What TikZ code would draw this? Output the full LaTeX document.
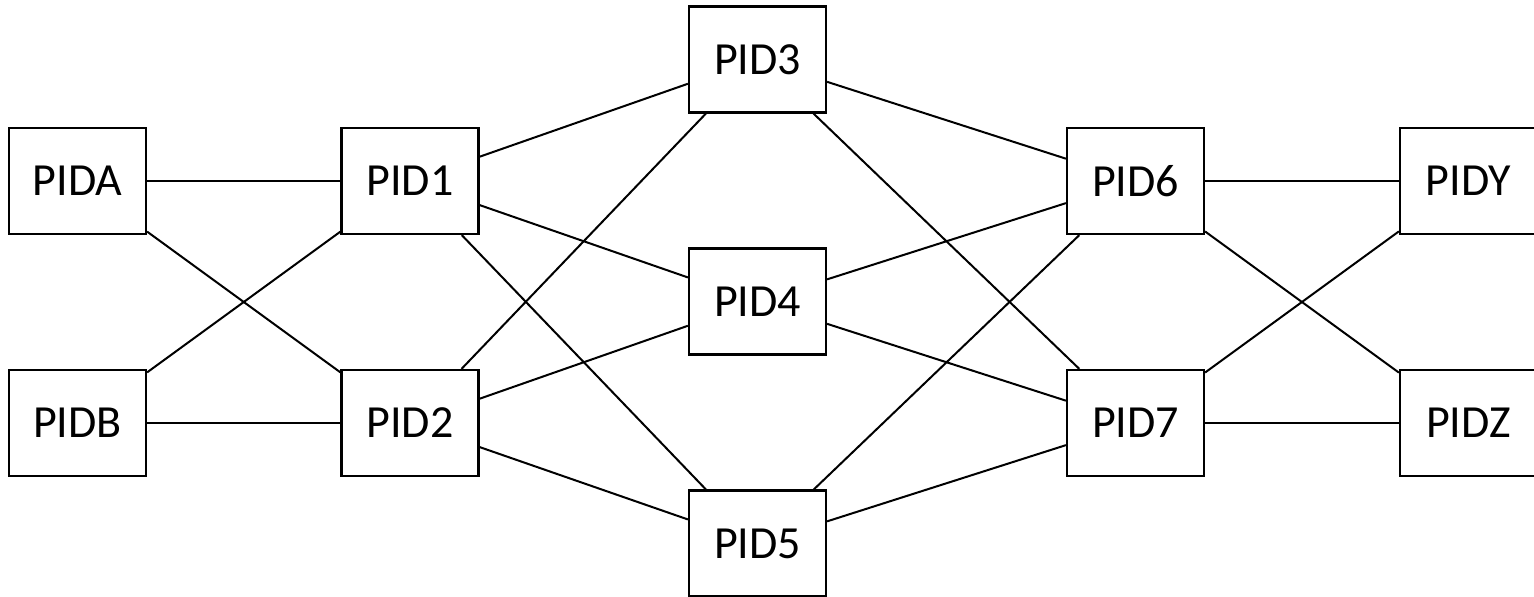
\documentclass[tikz,border=0pt]{standalone}
\usepackage{fontspec}
\setmainfont{Carlito}
\begin{document}
\begin{tikzpicture}[x=1pt,y=-1pt,
  pidbox/.style={draw=black,line width=2.2pt,fill=white,minimum width=137pt,minimum height=106pt,inner sep=0pt,font=\fontsize{46}{55}\selectfont},
  link/.style={draw=black,line width=2pt}]
\useasboundingbox (0,0) rectangle (1534,597);
\node[pidbox] (A) at (77.5,181) {PIDA};
\node[pidbox] (B) at (77.5,423) {PIDB};
\node[pidbox] (P1) at (410,181) {PID1};
\node[pidbox] (P2) at (410,423) {PID2};
\node[pidbox] (P3) at (757.5,59.5) {PID3};
\node[pidbox] (P4) at (757.5,301.5) {PID4};
\node[pidbox] (P5) at (757.5,543.5) {PID5};
\node[pidbox] (P6) at (1135.5,181) {PID6};
\node[pidbox] (P7) at (1135.5,423) {PID7};
\node[pidbox] (Y) at (1468.5,181) {PIDY};
\node[pidbox] (Z) at (1468.5,423) {PIDZ};
\foreach \a/\b in {A/P1,A/P2,B/P1,B/P2,P1/P3,P1/P4,P1/P5,P2/P3,P2/P4,P2/P5,P3/P6,P3/P7,P4/P6,P4/P7,P5/P6,P5/P7,P6/Y,P6/Z,P7/Y,P7/Z}
  \draw[link] (\a) -- (\b);
\end{tikzpicture}
\end{document}
